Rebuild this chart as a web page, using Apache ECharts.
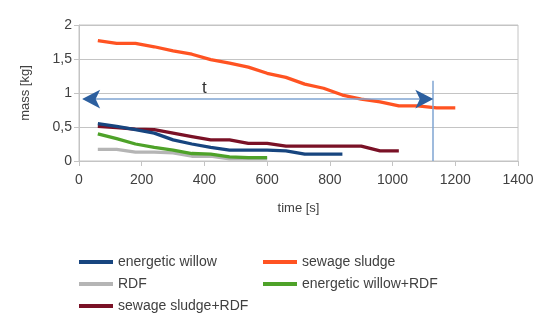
<!DOCTYPE html>
<html><head><meta charset="utf-8">
<script src="https://cdn.jsdelivr.net/npm/echarts@6/dist/echarts.min.js"></script>
<style>html,body{margin:0;padding:0;background:#fff}#c{width:550px;height:327px}</style>
</head><body><div id="c"></div>
<script>
const times = [60,120,180,240,300,360,420,480,540,600,660,720,780,840,900,960,1020,1080,1140,1200];
const energeticWillow = [0.55,0.51,0.46,0.41,0.31,0.25,0.20,0.16,0.16,0.16,0.15,0.10,0.10,0.10];
const sewageSludge = [1.77,1.73,1.73,1.68,1.62,1.57,1.49,1.44,1.38,1.29,1.23,1.13,1.07,0.97,0.91,0.87,0.81,0.81,0.78,0.78];
const rdf = [0.17,0.17,0.13,0.13,0.12,0.07,0.07,0.03,0.03,0.03];
const willowRdf = [0.40,0.33,0.25,0.20,0.16,0.11,0.10,0.06,0.05,0.05];
const sludgeRdf = [0.51,0.49,0.47,0.46,0.41,0.36,0.31,0.31,0.26,0.26,0.22,0.22,0.22,0.22,0.22,0.15,0.15];
const xTicks = [0,200,400,600,800,1000,1200,1400];
const yTicks = [0,0.5,1,1.5,2];
const arrowY = 0.91, arrowStart = 10, arrowEnd = 1130;   // arrowhead centres
const lineStart = 15, lineEnd = 1120;
const vLineX = 1127, vLineTop = 1.18;
const tLabel = [400, 1.07];

const names = ['energetic willow','sewage sludge','RDF','energetic willow+RDF','sewage sludge+RDF'];
const colors = ['#17457f','#ff5322','#b5b5b5','#4ea229','#7a1126'];
const sets = [energeticWillow, sewageSludge, rdf, willowRdf, sludgeRdf];
const zs = [5,3,2,4,3];
const pair = arr => arr.map((v,i)=>[times[i], v]);
const txt = '#404040';
const FF = 'Liberation Sans';
const series = sets.map((s,i)=>({
  name: names[i], type:'line', data: pair(s), showSymbol:false, symbol:'none',
  lineStyle:{width:3.3, color:colors[i]}, itemStyle:{color:colors[i]}, z: zs[i], silent:true, animation:false
}));
series.push({
  name:'arrowline', type:'line', data:[], animation:false, z:6,
  markLine:{
    silent:true, animation:false, symbol:['none','none'],
    data:[
      [{coord:[lineStart, arrowY]},{coord:[lineEnd, arrowY]}],
      [{coord:[vLineX, 0]},{coord:[vLineX, vLineTop]}]
    ],
    lineStyle:{color:'#7fa4d2', width:1.5, type:'solid'},
    label:{show:false}
  },
  markPoint:{
    silent:true, animation:false, symbol:'circle', symbolSize:0,
    data:[{coord:tLabel, value:'t'}],
    label:{show:true, formatter:'t', color:'#303030', fontSize:17, fontFamily:FF}
  }
});
series.push({
  name:'arrowheads', type:'scatter', animation:false, silent:true, z:7,
  data:[
    {value:[arrowStart, arrowY], symbolRotate:90},
    {value:[arrowEnd, arrowY], symbolRotate:-90}
  ],
  symbol:'arrow', symbolSize:[14,18], itemStyle:{color:'#2c5f9f', opacity:1}
});

const chart = echarts.init(document.getElementById('c'), null, {renderer:'canvas'});
chart.setOption({
  animation:false,
  textStyle:{fontFamily:FF},
  grid:{left:79, right:32, top:25, bottom:166, show:true, borderColor:'#c4c4c4', borderWidth:1, containLabel:false},
  xAxis:{type:'value', min:xTicks[0], max:xTicks[xTicks.length-1], interval:200,
    name:'time [s]', nameLocation:'middle', nameGap:41,
    nameTextStyle:{color:txt, fontSize:13, fontFamily:FF},
    axisLine:{show:true, lineStyle:{color:'#c4c4c4'}},
    axisTick:{show:true, length:5, lineStyle:{color:'#c4c4c4'}},
    axisLabel:{color:txt, fontSize:14, margin:12, fontFamily:FF, formatter:v=>String(v)},
    splitLine:{show:false}},
  yAxis:{type:'value', min:yTicks[0], max:yTicks[yTicks.length-1], interval:0.5,
    name:'mass [kg]', nameLocation:'middle', nameGap:47,
    nameTextStyle:{color:txt, fontSize:13, fontFamily:FF},
    axisLine:{show:true, lineStyle:{color:'#c4c4c4'}},
    axisTick:{show:true, length:5, lineStyle:{color:'#c4c4c4'}},
    axisLabel:{color:txt, fontSize:14, margin:7, fontFamily:FF,
      formatter:v=>String(v).replace('.',',')},
    splitLine:{show:true, lineStyle:{color:'#c4c4c4', width:1}}},
  legend:[
    {data:[names[0],names[2],names[4]], orient:'vertical', left:74, top:249, itemGap:6,
     icon:'rect', itemWidth:34, itemHeight:4, itemStyle:{borderWidth:0},
     textStyle:{color:txt, fontSize:14, fontFamily:FF, lineHeight:16}, selectedMode:false},
    {data:[names[1],names[3]], orient:'vertical', left:258, top:249, itemGap:6,
     icon:'rect', itemWidth:34, itemHeight:4, itemStyle:{borderWidth:0},
     textStyle:{color:txt, fontSize:14, fontFamily:FF, lineHeight:16}, selectedMode:false}
  ],
  series: series
});
</script></body></html>
